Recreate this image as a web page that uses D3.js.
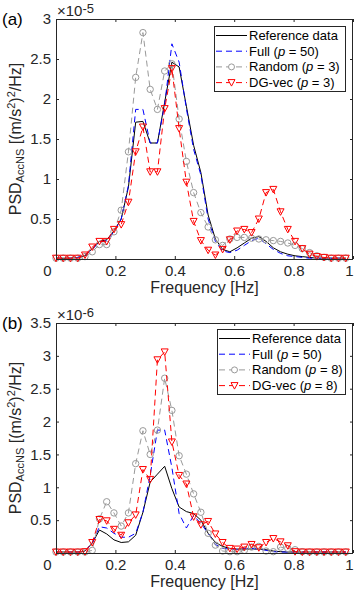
<!DOCTYPE html>
<html>
<head>
<meta charset="utf-8">
<script src="https://cdn.jsdelivr.net/npm/d3@7"></script>
<style>
  body { margin: 0; background: #fff; }
  svg { display: block; font-family: "Liberation Sans", Arial, sans-serif; }
</style>
</head>
<body>
<svg id="chart" width="354" height="595"></svg>
<script>
// frequency bins (Hz)
const freq = [0, 0.0244, 0.0488, 0.0732, 0.0976, 0.1220, 0.1463, 0.1707, 0.1951, 0.2195,
  0.2439, 0.2683, 0.2927, 0.3171, 0.3415, 0.3659, 0.3902, 0.4146, 0.4390, 0.4634,
  0.4878, 0.5122, 0.5366, 0.5610, 0.5854, 0.6098, 0.6341, 0.6585, 0.6829, 0.7073,
  0.7317, 0.7561, 0.7805, 0.8049, 0.8293, 0.8537, 0.8780, 0.9024, 0.9268, 0.9512, 0.9756];

const xTicks = [0, 0.2, 0.4, 0.6, 0.8, 1];
const yTicksA = [0.5, 1, 1.5, 2, 2.5, 3];
const yTicksB = [0.5, 1, 1.5, 2, 2.5, 3, 3.5];

// panel (a), PSD in 1e-5 (m/s^2)^2/Hz
const refA = [0.01, 0.01, 0.01, 0.02, 0.04, 0.13, 0.22, 0.24, 0.35, 0.5,
  0.9, 1.71, 1.72, 1.45, 1.45, 1.96, 2.46, 2.4, 1.91, 1.42,
  1.08, 0.55, 0.25, 0.12, 0.09, 0.14, 0.2, 0.26, 0.28, 0.22,
  0.14, 0.09, 0.06, 0.04, 0.03, 0.02, 0.01, 0.01, 0.01, 0.01, 0.01];
const fullA = [0.01, 0.01, 0.01, 0.02, 0.05, 0.12, 0.21, 0.23, 0.34, 0.5,
  0.92, 1.87, 1.87, 1.45, 1.45, 1.93, 2.69, 2.46, 1.88, 1.37,
  1.05, 0.5, 0.22, 0.1, 0.08, 0.11, 0.17, 0.23, 0.26, 0.19,
  0.12, 0.07, 0.04, 0.03, 0.02, 0.01, 0.01, 0.01, 0.01, 0.01, 0.01];
const randA = [0.01, 0.01, 0.01, 0.01, 0.03, 0.09, 0.18, 0.18, 0.34, 0.61,
  1.34, 2.27, 2.83, 2.12, 1.87, 2.35, 2.44, 1.75, 1.22, 0.83,
  0.58, 0.4, 0.24, 0.17, 0.25, 0.27, 0.27, 0.26, 0.25, 0.24,
  0.23, 0.22, 0.2, 0.17, 0.13, 0.08, 0.04, 0.02, 0.01, 0.01, 0.01];
const dgA = [0.01, 0.01, 0.01, 0.01, 0.05, 0.15, 0.22, 0.22, 0.37, 0.43,
  0.71, 1.34, 1.65, 1.09, 1.09, 1.88, 2.38, 1.63, 0.96, 0.47,
  0.23, 0.11, 0.05, 0.12, 0.24, 0.35, 0.37, 0.33, 0.5, 0.83,
  0.87, 0.59, 0.37, 0.22, 0.13, 0.06, 0.03, 0.02, 0.01, 0.01, 0.01];

// panel (b), PSD in 1e-6 (m/s^2)^2/Hz
const refB = [0.015, 0.015, 0.015, 0.015, 0.03, 0.15, 0.35, 0.29, 0.2, 0.16,
  0.17, 0.27, 0.62, 1.08, 1.2, 1.32, 0.98, 0.7, 0.63, 0.6,
  0.5, 0.3, 0.16, 0.1, 0.07, 0.06, 0.06, 0.06, 0.06, 0.05,
  0.03, 0.02, 0.015, 0.015, 0.015, 0.015, 0.015, 0.015, 0.015, 0.015, 0.015];
const fullB = [0.015, 0.015, 0.015, 0.015, 0.03, 0.15, 0.4, 0.38, 0.3, 0.24,
  0.24, 0.3, 0.62, 1.18, 1.87, 1.87, 1.3, 0.6, 0.38, 0.57,
  0.45, 0.3, 0.13, 0.07, 0.06, 0.06, 0.07, 0.07, 0.06, 0.04,
  0.02, 0.015, 0.015, 0.015, 0.015, 0.015, 0.015, 0.015, 0.015, 0.015, 0.015];
const randB = [0.015, 0.015, 0.015, 0.015, 0.015, 0.04, 0.52, 0.78, 0.61, 0.41,
  0.61, 1.36, 1.86, 1.5, 1.87, 2.66, 2.17, 1.48, 1.2, 0.9,
  0.62, 0.3, 0.12, 0.03, 0.02, 0.02, 0.04, 0.09, 0.1, 0.03,
  0.02, 0.09, 0.07, 0.05, 0.02, 0.015, 0.015, 0.015, 0.015, 0.015, 0.015];
const dgB = [0.015, 0.015, 0.015, 0.015, 0.02, 0.16, 0.51, 0.49, 0.36, 0.27,
  0.46, 0.58, 1.27, 1.12, 2.94, 3.06, 1.69, 1.18, 1.05, 0.55,
  0.43, 0.48, 0.29, 0.16, 0.07, 0.06, 0.09, 0.13, 0.08, 0.16,
  0.22, 0.17, 0.11, 0.02, 0.015, 0.015, 0.015, 0.015, 0.015, 0.015, 0.015];

const names = ["Reference data", "Full", "Random", "DG-vec"];
const pA = [null, 50, 3, 3];
const pB = [null, 50, 8, 8];

const axisColor = "#262626";
const styles = [
  {color: "#000000", dash: null, marker: null},
  {color: "#0000ff", dash: "6,4", marker: null},
  {color: "#999999", dash: "6,4", marker: "circle"},
  {color: "#ff0000", dash: "6,4", marker: "triangle"}
];

const svg = d3.select("#chart");

function drawPanel(cfg) {
  let left = 56, right = 353;
  let x = d3.scaleLinear().domain([0, 1]).range([left, right]);
  let y = d3.scaleLinear().domain([0, cfg.yMax]).range([cfg.bottom, cfg.top]);
  let g = svg.append("g");

  // axes (ticks inward, box on)
  let xb = g.append("g").attr("transform", "translate(0," + cfg.bottom + ")")
    .call(d3.axisBottom(x).tickValues(xTicks).tickFormat(d => String(d))
      .tickSizeInner(-3).tickSizeOuter(0).tickPadding(6));
  xb.selectAll("text").filter(d => d === 0).attr("dx", -9);
  xb.selectAll("text").filter(d => d === 1).attr("dx", -4);
  g.append("g").attr("transform", "translate(0," + cfg.top + ")")
    .call(d3.axisTop(x).tickValues(xTicks).tickFormat("").tickSizeInner(-3).tickSizeOuter(0));
  g.append("g").attr("transform", "translate(" + left + ",0)")
    .call(d3.axisLeft(y).tickValues(cfg.yTicks).tickFormat(d => String(d))
      .tickSizeInner(-3).tickSizeOuter(0).tickPadding(5));
  g.append("g").attr("transform", "translate(" + right + ",0)")
    .call(d3.axisRight(y).tickValues(cfg.yTicks).tickFormat("").tickSizeInner(-3).tickSizeOuter(0));
  g.selectAll(".domain").remove();
  g.selectAll(".tick line").attr("stroke", axisColor);
  g.selectAll(".tick text").attr("fill", axisColor).style("font-size", "15px")
    .style("font-family", "'Liberation Sans', Arial, sans-serif");

  // series
  cfg.series.forEach(function(vals, i) {
    let st = styles[i];
    let line = d3.line().x((d, j) => x(freq[j])).y(d => y(d));
    g.append("path").datum(vals)
      .attr("d", line)
      .attr("fill", "none")
      .attr("stroke", st.color)
      .attr("stroke-width", 1)
      .attr("stroke-dasharray", st.dash);
    if (st.marker == "circle") {
      g.selectAll(null).data(vals).enter().append("circle")
        .attr("cx", (d, j) => x(freq[j])).attr("cy", d => y(d)).attr("r", 3.2)
        .attr("fill", "none").attr("stroke", st.color).attr("stroke-width", 1);
    } else if (st.marker == "triangle") {
      g.selectAll(null).data(vals).enter().append("path")
        .attr("d", "M-3.5,-3L3.5,-3L0,3.5Z")
        .attr("transform", (d, j) => "translate(" + x(freq[j]) + "," + y(d) + ")")
        .attr("fill", "none").attr("stroke", st.color).attr("stroke-width", 1);
    }
  });

  // box
  g.append("rect").attr("x", left + 0.5).attr("y", cfg.top + 0.5)
    .attr("width", right - left - 1).attr("height", cfg.bottom - cfg.top)
    .attr("fill", "none").attr("stroke", axisColor).attr("stroke-width", 1);

  // legend
  let lg = g.append("g");
  lg.append("rect").attr("x", cfg.legX + 0.5).attr("y", cfg.legY + 0.5)
    .attr("width", right - 8 - cfg.legX).attr("height", 65)
    .attr("fill", "#fff").attr("stroke", axisColor).attr("stroke-width", 1);
  names.forEach(function(name, i) {
    let st = styles[i];
    let ry = cfg.legY + 9.5 + i * 15.7;
    let x0 = cfg.legX + 2, x1 = cfg.legX + 33, xm = (x0 + x1) / 2;
    lg.append("line").attr("x1", x0).attr("x2", x1).attr("y1", ry).attr("y2", ry)
      .attr("stroke", st.color).attr("stroke-width", 1).attr("stroke-dasharray", st.dash);
    if (st.marker == "circle") {
      lg.append("circle").attr("cx", xm).attr("cy", ry).attr("r", 3)
        .attr("fill", "#fff").attr("stroke", st.color);
    } else if (st.marker == "triangle") {
      lg.append("path").attr("d", "M-3.5,-3L3.5,-3L0,3.5Z")
        .attr("transform", "translate(" + xm + "," + ry + ")")
        .attr("fill", "#fff").attr("stroke", st.color);
    }
    let t = lg.append("text").attr("x", x1 + 2).attr("y", ry + 4.5)
      .style("font-size", "13px").attr("fill", "#000");
    if (cfg.p[i] == null) {
      t.text(name);
    } else {
      t.append("tspan").text(name + " (");
      t.append("tspan").style("font-style", "italic").text("p");
      t.append("tspan").text(" = " + cfg.p[i] + ")");
    }
  });

  // axis labels
  g.append("text").attr("x", (left + right) / 2).attr("y", cfg.bottom + 34)
    .attr("text-anchor", "middle").style("font-size", "16px").attr("fill", axisColor)
    .text("Frequency [Hz]");

  let yl = g.append("text")
    .attr("transform", "translate(21," + ((cfg.top + cfg.bottom) / 2) + ") rotate(-90)")
    .attr("text-anchor", "middle").style("font-size", "16px").attr("fill", axisColor);
  yl.append("tspan").text("PSD");
  yl.append("tspan").attr("dy", 3).style("font-size", "11px").text("AccNS");
  yl.append("tspan").attr("dy", -3).text(" [(m/s");
  yl.append("tspan").attr("dy", -6).style("font-size", "11px").text("2");
  yl.append("tspan").attr("dy", 6).text(")");
  yl.append("tspan").attr("dy", -6).style("font-size", "11px").text("2");
  yl.append("tspan").attr("dy", 6).text("/Hz]");

  // exponent
  let ex = g.append("text").attr("x", 57).attr("y", cfg.top - 3)
    .style("font-size", "15px").attr("fill", axisColor);
  ex.append("tspan").text("\u00d710");
  ex.append("tspan").attr("dy", -3).style("font-size", "13px").text(cfg.exp);

  // panel letter
  g.append("text").attr("x", 2).attr("y", cfg.top + 6)
    .style("font-size", "17px").attr("fill", "#000").text(cfg.letter);
}

drawPanel({top: 19, bottom: 259, yMax: 3, yTicks: yTicksA, series: [refA, fullA, randA, dgA],
  p: pA, legX: 214, legY: 26, exp: "-5", letter: "(a)"});
drawPanel({top: 323, bottom: 553, yMax: 3.5, yTicks: yTicksB, series: [refB, fullB, randB, dgB],
  p: pB, legX: 217, legY: 329, exp: "-6", letter: "(b)"});
</script>
</body>
</html>
